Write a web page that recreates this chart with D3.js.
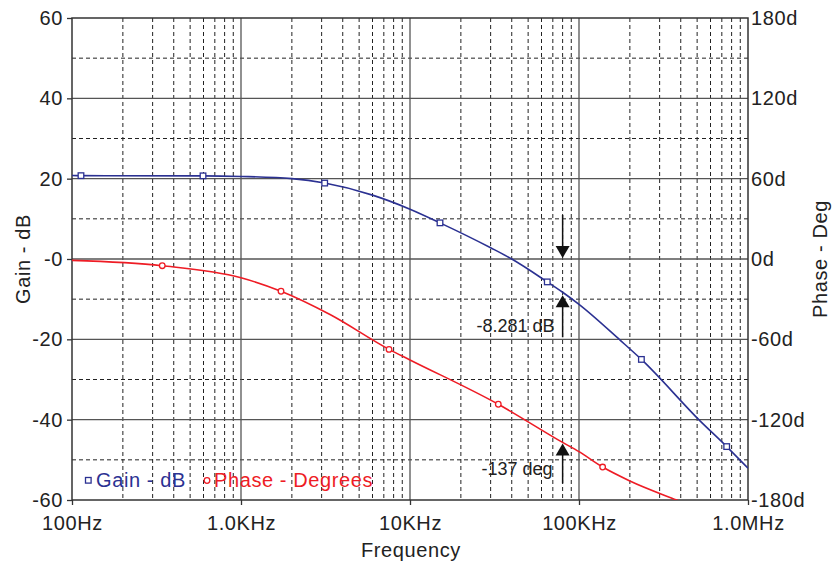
<!DOCTYPE html>
<html>
<head>
  <meta charset="utf-8">
  <title>Gain / Phase vs Frequency</title>
  <script src="https://d3js.org/d3.v7.min.js"></script>
</head>
<style>
  body { margin: 0; background: #fff; }
  svg text { font-family: "Liberation Sans", Arial, sans-serif; fill: #222; letter-spacing: 0.6px; }
</style>
<body>
</body>
<script>

  // Frequency (Hz) vs gain (dB)
  var gainData = [
    [100, 20.8], [113, 20.75], [596, 20.7], [1000, 20.55], [2000, 20.0],
    [3127, 18.9], [6000, 15.9], [10000, 12.4], [15047, 9.0], [30000, 2.8],
    [40000, 0], [64900, -5.7], [80000, -8.281], [100000, -11.3], [175000, -20.2],
    [234000, -25.0], [520000, -40.3], [748000, -46.7], [1000000, -52.1]
  ];
  // Frequency (Hz) vs phase (deg)
  var phaseData = [
    [100, -1.0], [342, -5.0], [1000, -14.0], [1725, -24.1], [3363, -41.5],
    [7514, -67.5], [10000, -75.4], [33300, -108.5], [80000, -137], [100000, -143.9],
    [138000, -155.4], [200000, -165.8], [378000, -180], [500000, -186]
  ];
  // symbol positions on each trace
  var gainMarks = [[113, 20.75], [596, 20.7], [3127, 18.9], [15047, 9.0], [64900, -5.7], [234000, -25.0], [748000, -46.7]];
  var phaseMarks = [[342, -5.0], [1725, -24.1], [7514, -67.5], [33300, -108.5], [138000, -155.4]];

  var freqTicks = [100, 1000, 10000, 100000, 1000000];
  var freqLabels = ["100Hz", "1.0KHz", "10KHz", "100KHz", "1.0MHz"];
  var gainTicks = [-60, -40, -20, 0, 20, 40, 60];
  var gainLabels = ["-60", "-40", "-20", "-0", "20", "40", "60"];
  var phaseTicks = [-180, -120, -60, 0, 60, 120, 180];
  var phaseLabels = ["-180d", "-120d", "-60d", "0d", "60d", "120d", "180d"];

  // cursor readout
  var cursorFreq = 80000, cursorGain = -8.281, cursorPhase = -137;

  var gainColor = "#2b3192", phaseColor = "#ee1c25";

  var W = 835, H = 565;
  var pL = 72, pR = 748, pT = 18, pB = 500;

  var x = d3.scaleLog().domain([100, 1e6]).range([pL, pR]);
  var yG = d3.scaleLinear().domain([-60, 60]).range([pB, pT]);
  var yP = d3.scaleLinear().domain([-180, 180]).range([pB, pT]);

  var svg = d3.select("body").append("svg")
    .attr("width", W)
    .attr("height", H);

  svg.append("clipPath").attr("id", "plot")
    .append("rect")
      .attr("x", pL).attr("y", pT)
      .attr("width", pR - pL).attr("height", pB - pT);

  // grid
  var minorF = [];
  [100, 1000, 10000, 100000].forEach(function(d) {
    for (var k = 2; k <= 9; k++) minorF.push(d * k);
  });
  var grid = svg.append("g");
  grid.selectAll(".vminor").data(minorF).enter().append("line")
    .attr("x1", function(d) { return x(d); }).attr("x2", function(d) { return x(d); })
    .attr("y1", pT).attr("y2", pB)
    .attr("stroke", "#222").attr("stroke-width", 1).attr("stroke-dasharray", "4,3");
  grid.selectAll(".hminor").data([-50, -30, -10, 10, 30, 50]).enter().append("line")
    .attr("x1", pL).attr("x2", pR)
    .attr("y1", function(d) { return yG(d); }).attr("y2", function(d) { return yG(d); })
    .attr("stroke", "#222").attr("stroke-width", 1).attr("stroke-dasharray", "4,3");
  grid.selectAll(".vmajor").data([1000, 10000, 100000]).enter().append("line")
    .attr("x1", function(d) { return x(d); }).attr("x2", function(d) { return x(d); })
    .attr("y1", pT).attr("y2", pB)
    .attr("stroke", "#555").attr("stroke-width", 1.3);
  grid.selectAll(".hmajor").data([-40, -20, 0, 20, 40]).enter().append("line")
    .attr("x1", pL).attr("x2", pR)
    .attr("y1", function(d) { return yG(d); }).attr("y2", function(d) { return yG(d); })
    .attr("stroke", "#555").attr("stroke-width", 1.3);

  // axes
  var fs = "20px";
  var ax = svg.append("g")
    .attr("transform", "translate(0," + pB + ")")
    .call(d3.axisBottom(x).tickValues(freqTicks)
      .tickFormat(function(d, i) { return freqLabels[i]; })
      .tickSize(5).tickPadding(11));
  var ayl = svg.append("g")
    .attr("transform", "translate(" + pL + ",0)")
    .call(d3.axisLeft(yG).tickValues(gainTicks)
      .tickFormat(function(d, i) { return gainLabels[i]; })
      .tickSize(5).tickPadding(4));
  var ayr = svg.append("g")
    .attr("transform", "translate(" + pR + ",0)")
    .call(d3.axisRight(yP).tickValues(phaseTicks)
      .tickFormat(function(d, i) { return phaseLabels[i]; })
      .tickSize(0).tickPadding(3));
  [ax, ayl, ayr].forEach(function(g) {
    g.select(".domain").remove();
    g.attr("font-family", null);
    g.selectAll("text").style("font-size", fs).attr("fill", "#222");
    g.selectAll("line").attr("stroke", "#333").attr("stroke-width", 1.3);
  });

  // frame
  svg.append("rect")
    .attr("x", pL).attr("y", pT)
    .attr("width", pR - pL).attr("height", pB - pT)
    .attr("fill", "none").attr("stroke", "#333").attr("stroke-width", 1.5);

  // titles
  svg.append("text")
    .attr("transform", "translate(30," + ((pT + pB) / 2) + ") rotate(-90)")
    .attr("text-anchor", "middle").style("font-size", fs)
    .text("Gain - dB");
  svg.append("text")
    .attr("transform", "translate(827," + ((pT + pB) / 2) + ") rotate(-90)")
    .attr("text-anchor", "middle").style("font-size", fs)
    .text("Phase - Deg");
  svg.append("text")
    .attr("x", (pL + pR) / 2 + 1).attr("y", 557)
    .attr("text-anchor", "middle").style("font-size", fs)
    .text("Frequency");

  // traces
  var plot = svg.append("g").attr("clip-path", "url(#plot)");
  var gainLine = d3.line()
    .x(function(d) { return x(d[0]); })
    .y(function(d) { return yG(d[1]); })
    .curve(d3.curveMonotoneX);
  var phaseLine = d3.line()
    .x(function(d) { return x(d[0]); })
    .y(function(d) { return yP(d[1]); })
    .curve(d3.curveMonotoneX);

  plot.append("path").datum(gainData)
    .attr("d", gainLine).attr("fill", "none")
    .attr("stroke", gainColor).attr("stroke-width", 1.6);
  plot.append("path").datum(phaseData)
    .attr("d", phaseLine).attr("fill", "none")
    .attr("stroke", phaseColor).attr("stroke-width", 1.6);

  plot.selectAll(".gm").data(gainMarks).enter().append("rect")
    .attr("x", function(d) { return x(d[0]) - 2.8; })
    .attr("y", function(d) { return yG(d[1]) - 2.8; })
    .attr("width", 5.6).attr("height", 5.6)
    .attr("fill", "#fff").attr("stroke", gainColor).attr("stroke-width", 1.3);
  plot.selectAll(".pm").data(phaseMarks).enter().append("circle")
    .attr("cx", function(d) { return x(d[0]); })
    .attr("cy", function(d) { return yP(d[1]); })
    .attr("r", 2.8)
    .attr("fill", "#fff").attr("stroke", phaseColor).attr("stroke-width", 1.3);

  // cursor arrows
  var cx = x(cursorFreq);
  function arrowHead(tipY, dir) {
    // dir = 1 points down, -1 points up
    svg.append("path")
      .attr("d", "M" + cx + "," + tipY + "L" + (cx - 7) + "," + (tipY - dir * 12) + "L" + (cx + 7) + "," + (tipY - dir * 12) + "Z")
      .attr("fill", "#111");
  }
  var zeroY = yG(0) - 1;
  svg.append("line").attr("x1", cx).attr("x2", cx)
    .attr("y1", zeroY - 43).attr("y2", zeroY - 10)
    .attr("stroke", "#111").attr("stroke-width", 1.5);
  arrowHead(zeroY, 1);
  var gY = yG(cursorGain) + 3;
  svg.append("line").attr("x1", cx).attr("x2", cx)
    .attr("y1", gY + 10).attr("y2", gY + 42)
    .attr("stroke", "#111").attr("stroke-width", 1.5);
  arrowHead(gY, -1);
  svg.append("text")
    .attr("x", cx - 8).attr("y", gY + 37)
    .attr("text-anchor", "end").style("font-size", "18px")
    .style("letter-spacing", "0px")
    .text(cursorGain + " dB");

  var pY = yP(cursorPhase) + 1;
  svg.append("line").attr("x1", cx).attr("x2", cx)
    .attr("y1", pY + 10).attr("y2", pY + 40)
    .attr("stroke", "#111").attr("stroke-width", 1.5);
  arrowHead(pY, -1);
  svg.append("text")
    .attr("x", cx - 10).attr("y", pY + 32)
    .attr("text-anchor", "end").style("font-size", "18px")
    .style("letter-spacing", "0px")
    .text(cursorPhase + " deg");

  // legend
  var lg = svg.append("g");
  lg.append("rect")
    .attr("x", 85.5).attr("y", 477.5).attr("width", 5.6).attr("height", 5.6)
    .attr("fill", "#fff").attr("stroke", gainColor).attr("stroke-width", 1.3);
  lg.append("text")
    .attr("x", 96).attr("y", 487).style("font-size", fs)
    .style("fill", gainColor)
    .text("Gain - dB");
  lg.append("circle")
    .attr("cx", 207).attr("cy", 480.5).attr("r", 2.8)
    .attr("fill", "#fff").attr("stroke", phaseColor).attr("stroke-width", 1.3);
  lg.append("text")
    .attr("x", 214).attr("y", 487).style("font-size", fs)
    .style("fill", phaseColor)
    .text("Phase - Degrees");

</script>
</html>
